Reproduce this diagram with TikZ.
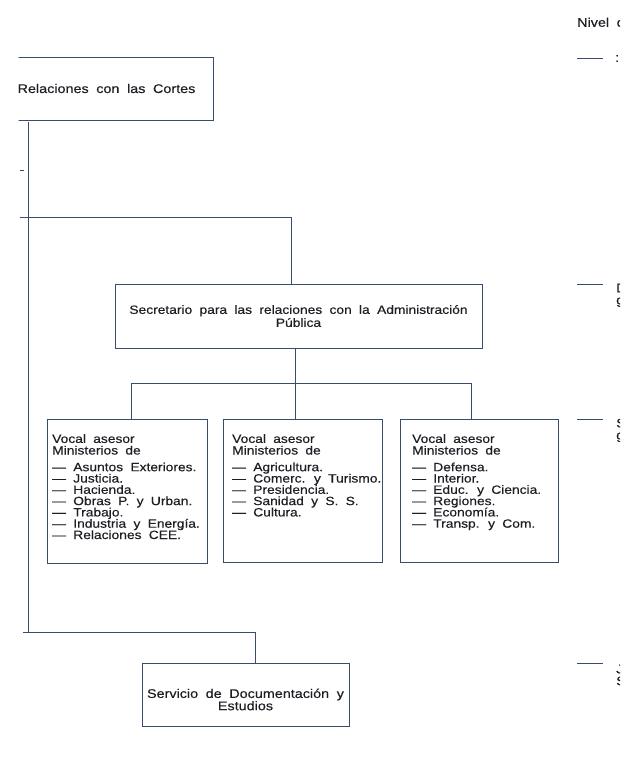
\documentclass[tikz,border=0pt]{standalone}
\usepackage{fontspec}
\setmainfont[FakeStretch=1.15,WordSpace=1.9,FakeBold=0.3]{Liberation Sans}
\usetikzlibrary{positioning}
\definecolor{ink}{RGB}{58,76,108}
\definecolor{txt}{RGB}{30,30,36}
\newcommand*{\apretado}[2]{\fontsize{#1}{#2}\selectfont\lineskiplimit=-100pt}
\tikzset{
  box/.style={draw=ink, line width=1pt, align=center, text=txt, inner sep=0pt,
    font=\apretado{12.5}{13}},
  boxtext/.style={align=center, text=txt, inner sep=0pt, font=\apretado{12.5}{12.3}},
  conn/.style={draw=ink, line width=1pt},
  lista/.style={anchor=north west, align=left, text=txt, inner sep=0pt,
    font=\apretado{12}{11.3}},
  frag/.style={anchor=north west, align=left, text=txt, inner sep=0pt,
    font=\apretado{12.5}{12}},
}

\begin{document}
\begin{tikzpicture}[x=1pt, y=-1pt]
    \useasboundingbox[fill=white](0, 0) rectangle (639, 758);
    \begin{scope}
    \clip(18.5, 0) rectangle (620, 758);
    % cajas
    \node[box, minimum width=213, minimum height=63](cortes)at(106.5, 88.5){Relaciones con las Cortes};
    \node[box, font=\apretado{12}{13}, minimum width=367, minimum height=64](secre)at(298.5, 316){Secretario para las relaciones con la Administración\\Pública};
    \node[box, minimum width=160, minimum height=144](voc1)at(127, 491){};
    \node[box, minimum width=159, minimum height=143](voc2)at(303, 490.5){};
    \node[box, minimum width=158, minimum height=143](voc3)at(479, 490.5){};
    \node[box, minimum width=207, minimum height=63,
        label={[boxtext, yshift=-5]center:Servicio de Documentación y\\Estudios}](serv)at(245.5, 694.5){};
    % textos de los vocales
    \node[lista](lis1)at(52, 434){Vocal asesor\\[0.3pt]Ministerios de\\[5.4pt]— Asuntos Exteriores.\\— Justicia.\\— Hacienda.\\— Obras P. y Urban.\\— Trabajo.\\— Industria y Energía.\\— Relaciones CEE.};
    \node[lista](lis2)at(232, 434){Vocal asesor\\[0.3pt]Ministerios de\\[5.4pt]— Agricultura.\\— Comerc. y Turismo.\\— Presidencia.\\— Sanidad y S. S.\\— Cultura.};
    \node[lista](lis3)at(412, 434){Vocal asesor\\[0.3pt]Ministerios de\\[5.4pt]— Defensa.\\— Interior.\\— Educ. y Ciencia.\\— Regiones.\\— Economía.\\— Transp. y Com.};
    % lineas
    \coordinate(tronco1)at(28, 122);
    \coordinate(tronco2)at(28, 632);
    \coordinate(nudo1)at(291, 217);
    \coordinate(nudo2)at(295, 383);
    \coordinate(rama1)at(131, 383);
    \coordinate(rama3)at(471, 383);
    \coordinate(nudo3)at(255, 632);
    \draw[conn](tronco1)--(tronco2);
    \draw[conn](20, 170)--(24, 170);
    \draw[conn](20, 217)--(nudo1)--(nudo1|-secre.north);
    \draw[conn](nudo2|-secre.south)--(nudo2|-voc2.north);
    \draw[conn](rama1|-voc1.north)--(rama1)--(rama3)--(rama3|-voc3.north);
    \draw[conn](23, 632)--(nudo3)--(nudo3|-serv.north);
    % margen derecho
    \node[frag](nivel)at(577, 17.5){Nivel de};
    \foreach \y in {58, 284, 419, 663}
        \draw[conn](577, \y)--(603, \y);
    \node[frag](f0)at(615, 55){:};
    \node[frag](f1)at(616, 283.5){D\\g};
    \node[frag](f2)at(616, 418.5){S\\g};
    \node[frag](f3)at(616, 664.5){J\\S};
    \end{scope}
\end{tikzpicture}
\end{document}
